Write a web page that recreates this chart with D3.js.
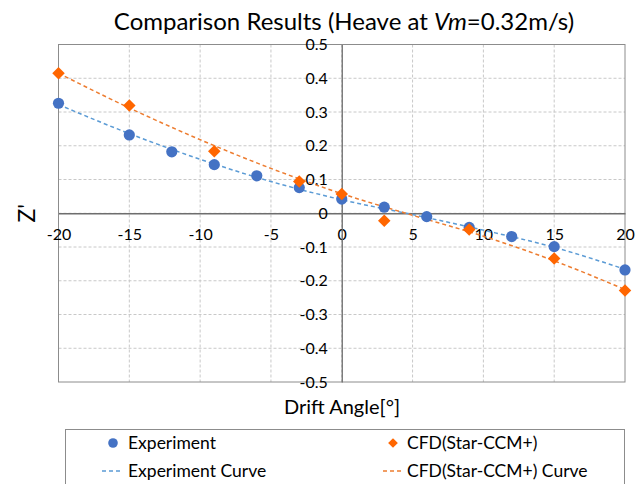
<!DOCTYPE html>
<html>
<head>
<meta charset="utf-8">
<script src="https://cdn.jsdelivr.net/npm/d3@7"></script>
<style>
  body { margin: 0; background: #fff; }
  text { font-family: Lato, "Open Sans", sans-serif; fill: #000; }
</style>
</head>
<body>
<div id="chart"></div>
<script>
// data
var expAngle = [-20, -15, -12, -9, -6, -3, 0, 3, 6, 9, 12, 15, 20];
var expZ = [0.326, 0.232, 0.182, 0.144, 0.111, 0.076, 0.042, 0.018, -0.010, -0.042, -0.069, -0.099, -0.168];

var cfdAngle = [-20, -15, -9, -3, 0, 3, 9, 15, 20];
var cfdZ = [0.415, 0.319, 0.184, 0.094, 0.057, -0.022, -0.048, -0.134, -0.229];

// trend curves
var curveAngle = [-20, -15, -10, -5, 0, 5, 10, 15, 20];
var expCurveZ = [0.322, 0.236, 0.160, 0.094, 0.040, -0.004, -0.050, -0.101, -0.166];
var cfdCurveZ = [0.415, 0.312, 0.218, 0.133, 0.058, -0.006, -0.068, -0.141, -0.226];

var xTicks = [-20, -15, -10, -5, 0, 5, 10, 15, 20];
var yTicks = [-0.5, -0.4, -0.3, -0.2, -0.1, 0, 0.1, 0.2, 0.3, 0.4, 0.5];

var width = 642;
var height = 484;
var plotLeft = 58.5, plotRight = 625, plotTop = 44.5, plotBottom = 382;

var svg = d3.select("#chart").append("svg")
  .attr("width", width)
  .attr("height", height);

var xScale = d3.scaleLinear().domain([-20, 20]).range([plotLeft, plotRight]);
var yScale = d3.scaleLinear().domain([-0.5, 0.5]).range([plotBottom, plotTop]);

// grid
svg.append("g").selectAll("line").data(xTicks.slice(1, -1)).enter()
  .append("line")
  .attr("x1", function(d) { return xScale(d); })
  .attr("x2", function(d) { return xScale(d); })
  .attr("y1", plotTop).attr("y2", plotBottom)
  .attr("stroke", "#c8c8c8").attr("stroke-dasharray", "3,2");
svg.append("g").selectAll("line").data(yTicks.slice(1, -1)).enter()
  .append("line")
  .attr("y1", function(d) { return yScale(d); })
  .attr("y2", function(d) { return yScale(d); })
  .attr("x1", plotLeft).attr("x2", plotRight)
  .attr("stroke", "#c8c8c8").attr("stroke-dasharray", "3,2");

// plot border
svg.append("rect")
  .attr("x", plotLeft).attr("y", plotTop)
  .attr("width", plotRight - plotLeft).attr("height", plotBottom - plotTop)
  .attr("fill", "none").attr("stroke", "#8c8c8c").attr("stroke-width", 1);

// axes through zero
var xAxis = d3.axisBottom(xScale).tickValues(xTicks).tickSize(0).tickPadding(15)
  .tickFormat(function(d) { return String(d); });
var yAxis = d3.axisLeft(yScale).tickValues(yTicks).tickSize(0).tickPadding(14)
  .tickFormat(function(d) { return d === 0 ? "0" : d.toFixed(1); });

var gx = svg.append("g")
  .attr("transform", "translate(0," + yScale(0) + ")")
  .call(xAxis);
var gy = svg.append("g")
  .attr("transform", "translate(" + xScale(0) + ",0)")
  .call(yAxis);
[gx, gy].forEach(function(g) {
  g.select(".domain").attr("stroke", "#6e6e6e").attr("stroke-width", 1.3);
  g.selectAll("text").attr("font-size", 16).attr("font-family", "Lato, sans-serif").attr("fill", "#000");
});

// curves
var line = d3.line()
  .x(function(d) { return xScale(d[0]); })
  .y(function(d) { return yScale(d[1]); })
  .curve(d3.curveMonotoneX);

svg.append("path")
  .datum(d3.zip(curveAngle, expCurveZ))
  .attr("d", line)
  .attr("fill", "none").attr("stroke", "#5b9bd5")
  .attr("stroke-width", 1.5).attr("stroke-dasharray", "4,3");
svg.append("path")
  .datum(d3.zip(curveAngle, cfdCurveZ))
  .attr("d", line)
  .attr("fill", "none").attr("stroke", "#ed7d31")
  .attr("stroke-width", 1.5).attr("stroke-dasharray", "4,3");

// markers
svg.append("g").selectAll("circle").data(d3.zip(expAngle, expZ)).enter()
  .append("circle")
  .attr("cx", function(d) { return xScale(d[0]); })
  .attr("cy", function(d) { return yScale(d[1]); })
  .attr("r", 5.6)
  .attr("fill", "#4472c4");

var diamond = d3.symbol().type(d3.symbolDiamond2).size(100);
svg.append("g").selectAll("path").data(d3.zip(cfdAngle, cfdZ)).enter()
  .append("path")
  .attr("d", diamond)
  .attr("transform", function(d) { return "translate(" + xScale(d[0]) + "," + yScale(d[1]) + ")"; })
  .attr("fill", "#ff6600");

// title
var title = svg.append("text")
  .attr("x", 344).attr("y", 30)
  .attr("text-anchor", "middle")
  .attr("font-size", 24);
title.append("tspan").text("Comparison Results (Heave at ");
title.append("tspan").attr("font-style", "italic").text("Vm");
title.append("tspan").text("=0.32m/s)");

// axis titles
svg.append("text")
  .attr("transform", "translate(35," + yScale(0) + ")rotate(-90)")
  .attr("text-anchor", "middle")
  .attr("font-size", 23)
  .text("Z'");
svg.append("text")
  .attr("x", 342).attr("y", 414)
  .attr("text-anchor", "middle")
  .attr("font-size", 20)
  .text("Drift Angle[°]");

// legend
svg.append("rect")
  .attr("x", 65.5).attr("y", 429.5)
  .attr("width", 559).attr("height", 70)
  .attr("fill", "#fff").attr("stroke", "#8c8c8c");

var lg = svg.append("g").attr("font-size", 17.5);
lg.append("circle").attr("cx", 113).attr("cy", 443).attr("r", 4.8).attr("fill", "#4472c4");
lg.append("text").attr("x", 128).attr("y", 449).text("Experiment");
lg.append("line").attr("x1", 102).attr("x2", 123).attr("y1", 471).attr("y2", 471)
  .attr("stroke", "#5b9bd5").attr("stroke-width", 1.5).attr("stroke-dasharray", "4,3");
lg.append("text").attr("x", 128).attr("y", 477).text("Experiment Curve");

lg.append("path").attr("d", d3.symbol().type(d3.symbolDiamond2).size(60))
  .attr("transform", "translate(393,443)").attr("fill", "#ff6600");
lg.append("text").attr("x", 407).attr("y", 449).text("CFD(Star-CCM+)");
lg.append("line").attr("x1", 383).attr("x2", 403).attr("y1", 471).attr("y2", 471)
  .attr("stroke", "#ed7d31").attr("stroke-width", 1.5).attr("stroke-dasharray", "4,3");
lg.append("text").attr("x", 407).attr("y", 477).text("CFD(Star-CCM+) Curve");
</script>
</body>
</html>
